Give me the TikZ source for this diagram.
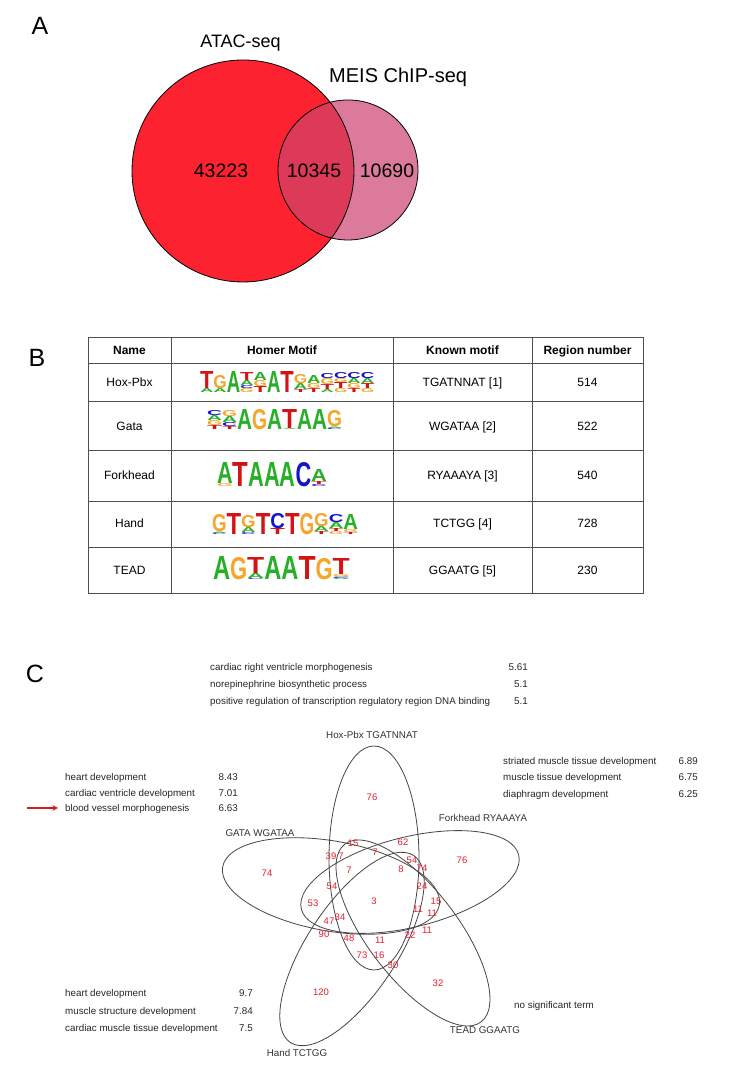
\documentclass[tikz,border=0pt]{standalone}
\usepackage{fontspec}
\setmainfont{Liberation Sans}
\usepackage{graphicx}
\usetikzlibrary{arrows.meta}
\definecolor{bigred}{RGB}{252,34,48}
\definecolor{meispink}{RGB}{220,122,156}
\definecolor{interred}{RGB}{221,58,90}
\definecolor{logoA}{RGB}{40,175,40}
\definecolor{logoC}{RGB}{20,20,200}
\definecolor{logoG}{RGB}{245,165,40}
\definecolor{logoT}{RGB}{210,20,20}
\definecolor{numred}{RGB}{232,30,45}
\definecolor{arrred}{RGB}{210,30,30}
\definecolor{vennline}{RGB}{70,70,70}
\definecolor{tabline}{RGB}{80,80,80}
\newcounter{lgc}
\newcommand\lcw{13}
\newcommand\logocol[3]{%
  \xdef\cury{#2}%
  \foreach \ltr/\hgt in {#3}{%
    \stepcounter{lgc}%
    \node[name=lg\arabic{lgc},inner sep=0pt,outer sep=0pt,anchor=south west,text=logo\ltr] at (#1,\cury) {\resizebox{\lcw pt}{\hgt pt}{\bfseries\ltr}};%
    \pgfmathsetmacro\tmp{\cury+\hgt}\xdef\cury{\tmp}%
  }}
\tikzset{
  panellabel/.style={font=\fontsize{25}{25}\selectfont, inner sep=0pt, anchor=base},
  bigtxt/.style={font=\fontsize{19.5}{21}\selectfont, inner sep=0pt, anchor=base},
  tabtxt/.style={font=\fontsize{12}{14}\selectfont, inner sep=0pt, anchor=base},
  tabhead/.style={font=\fontsize{12}{14}\selectfont\bfseries, inner sep=0pt, anchor=base},
  ct/.style={font=\fontsize{9.8}{11}\selectfont, text=black!85, inner sep=0pt},
  vlab/.style={font=\fontsize{9.8}{11}\selectfont, text=black!80, inner sep=0pt, anchor=base},
  rn/.style={font=\fontsize{9.5}{10}\selectfont, text=numred, inner sep=0pt, anchor=center},
  vell/.style={draw=vennline, line width=0.8pt},
  tline/.style={draw=tabline, line width=0.8pt}
}
\begin{document}
\begin{tikzpicture}[x=1pt,y=1pt]
\useasboundingbox (0,0) rectangle (729,1089);
\fill[white] (0,0) rectangle (729,1089);

% ---------------- Panel A ----------------
\node[panellabel] (labA) at (40,1054) {A};
\fill[bigred] (243,918) circle (111);
\fill[meispink] (348,919) circle (70);
\begin{scope}
  \clip (243,918) circle (111);
  \fill[interred] (348,919) circle (70);
\end{scope}
\draw[line width=0.8pt] (243,918) circle (111);
\draw[line width=0.8pt] (348,919) circle (70);
\node[bigtxt, font=\fontsize{18}{20}\selectfont] (atac) at (240.5,1041) {ATAC-seq};
\node[bigtxt, anchor=base west, font=\fontsize{20}{22}\selectfont] (meis) at (329,1006) {MEIS ChIP-seq};
\node[bigtxt] (n1) at (221,911) {43223};
\node[bigtxt] (n2) at (314,911) {10345};
\node[bigtxt] (n3) at (387,911) {10690};

% ---------------- Panel B ----------------
\node[panellabel] (labB) at (37,722) {B};
\draw[tline] (88,496) rectangle (643,752);
\foreach \yy in {726,688,639,588,542} { \draw[tline] (88,\yy) -- (643,\yy); }
\foreach \xx in {171,393,532} { \draw[tline] (\xx,496) -- (\xx,752); }
\node[tabhead] (h1) at (129.5,734.7) {Name};
\node[tabhead] (h2) at (282,734.7) {Homer Motif};
\node[tabhead] (h3) at (462.5,734.7) {Known motif};
\node[tabhead] (h4) at (587.5,734.7) {Region number};
\node[tabtxt] (r1a) at (129.5,702.7) {Hox-Pbx};
\node[tabtxt] (r1b) at (462.5,702.7) {TGATNNAT [1]};
\node[tabtxt] (r1c) at (587.5,702.7) {514};
\node[tabtxt] (r2a) at (129.5,658.7) {Gata};
\node[tabtxt] (r2b) at (462.5,658.7) {WGATAA [2]};
\node[tabtxt] (r2c) at (587.5,658.7) {522};
\node[tabtxt] (r3a) at (129.5,609.7) {Forkhead};
\node[tabtxt] (r3b) at (462.5,609.7) {RYAAAYA [3]};
\node[tabtxt] (r3c) at (587.5,609.7) {540};
\node[tabtxt] (r4a) at (129.5,561.7) {Hand};
\node[tabtxt] (r4b) at (462.5,561.7) {TCTGG [4]};
\node[tabtxt] (r4c) at (587.5,561.7) {728};
\node[tabtxt] (r5a) at (129.5,514.7) {TEAD};
\node[tabtxt] (r5b) at (462.5,514.7) {GGAATG [5]};
\node[tabtxt] (r5c) at (587.5,514.7) {230};

% Hox-Pbx logo
\renewcommand\lcw{13.4}
\logocol{200}{696}{A/4,T/17}
\logocol{213.4}{696}{A/4,G/13}
\logocol{226.8}{696}{A/21}
\logocol{240.2}{696}{G/4,C/3,A/5,T/8}
\logocol{253.6}{696}{T/6,G/6,A/8}
\logocol{267}{696}{A/21}
\logocol{280.4}{696}{T/21}
\logocol{293.8}{696}{T/3,A/6,G/9}
\logocol{307.2}{696}{T/4,G/5,A/8}
\logocol{320.6}{696}{A/3,T/5,G/6,C/5}
\logocol{334}{696}{G/4,T/6,G/4,C/6}
\logocol{347.4}{696}{T/4,G/5,A/5,C/6}
\logocol{360.8}{696}{G/4,T/5,A/5,C/6}
% Gata logo
\renewcommand\lcw{15}
\logocol{207}{659}{T/4,G/5,A/5,C/5}
\logocol{222}{659}{T/3,C/4,A/6,G/6}
\logocol{237}{659}{A/20}
\logocol{252}{659}{G/20}
\logocol{267}{659}{A/20}
\logocol{282}{659}{A/1,T/19}
\logocol{297}{659}{A/20}
\logocol{312}{659}{A/20}
\logocol{327}{659}{C/1.5,A/1.5,G/16}
% Forkhead logo
\renewcommand\lcw{15.7}
\logocol{217}{602}{G/3,A/21}
\logocol{232.7}{602}{T/24}
\logocol{248.4}{602}{A/24}
\logocol{264.1}{602}{A/24}
\logocol{279.8}{602}{A/24}
\logocol{295.5}{602}{C/24}
\logocol{311.2}{602}{C/2,T/3,A/12}
% Hand logo
\renewcommand\lcw{14.6}
\logocol{212}{554}{C/1.5,A/1.5,G/17}
\logocol{226.6}{554}{T/21}
\logocol{241.2}{554}{C/2,A/5,G/12}
\logocol{255.8}{554}{T/21}
\logocol{270.4}{554}{T/6,C/15}
\logocol{285}{554}{T/21}
\logocol{299.6}{554}{G/21}
\logocol{314.2}{554}{T/3,A/5,G/13}
\logocol{328.8}{554}{G/3,T/3,A/6,C/8}
\logocol{343.4}{554}{T/2,G/3,A/15}
% TEAD logo
\renewcommand\lcw{17.1}
\logocol{213}{509}{A/23}
\logocol{230.1}{509}{G/22}
\logocol{247.2}{509}{C/1,A/5,T/16}
\logocol{264.3}{509}{A/23}
\logocol{281.4}{509}{A/23}
\logocol{298.5}{509}{T/23}
\logocol{315.6}{509}{G/21}
\logocol{332.7}{509}{A/1.5,C/1.5,G/2,T/16}

% ---------------- Panel C ----------------
\node[panellabel] (labC) at (35,406) {C};
% top block
\node[ct, anchor=base west] (t1) at (210,418.5) {cardiac right ventricle morphogenesis};
\node[ct, anchor=base west] (t2) at (210,401.5) {norepinephrine biosynthetic process};
\node[ct, anchor=base west] (t3) at (210,384.5) {positive regulation of transcription regulatory region DNA binding};
\node[ct, anchor=base east] (t1v) at (528,418.5) {5.61};
\node[ct, anchor=base east] (t2v) at (528,401.5) {5.1};
\node[ct, anchor=base east] (t3v) at (528,384.5) {5.1};
% left block
\node[ct, anchor=base west] (l1) at (65,308.5) {heart development};
\node[ct, anchor=base west] (l2) at (65,292.5) {cardiac ventricle development};
\node[ct, anchor=base west] (l3) at (65,277.5) {blood vessel morphogenesis};
\node[ct, anchor=base east] (l1v) at (238,308.5) {8.43};
\node[ct, anchor=base east] (l2v) at (238,292.5) {7.01};
\node[ct, anchor=base east] (l3v) at (238,277.5) {6.63};
\coordinate (arrs) at (27,281);
\coordinate (arre) at (58,281);
\draw[arrred, line width=1.1pt, -{Stealth[length=5.5pt,width=5.5pt]}] (arrs) -- (arre);
% right block
\node[ct, anchor=base west] (r1) at (503,324.5) {striated muscle tissue development};
\node[ct, anchor=base west] (r2) at (503,308.5) {muscle tissue development};
\node[ct, anchor=base west] (r3) at (503,291.5) {diaphragm development};
\node[ct, anchor=base east] (r1v) at (698,324.5) {6.89};
\node[ct, anchor=base east] (r2v) at (698,308.5) {6.75};
\node[ct, anchor=base east] (r3v) at (698,291.5) {6.25};
% bottom-left block
\node[ct, anchor=base west] (b1) at (65,92.5) {heart development};
\node[ct, anchor=base west] (b2) at (65,74.5) {muscle structure development};
\node[ct, anchor=base west] (b3) at (65,57.5) {cardiac muscle tissue development};
\node[ct, anchor=base east] (b1v) at (253,92.5) {9.7};
\node[ct, anchor=base east] (b2v) at (253,74.5) {7.84};
\node[ct, anchor=base east] (b3v) at (253,57.5) {7.5};
\node[ct, anchor=base] (nst) at (554,80.5) {no significant term};

% ellipses
\draw[vell, rotate around={90:(374,231)}] (374,231) ellipse (112 and 45);
\draw[vell, rotate around={14:(410,207)}] (410,207) ellipse (112 and 45);
\draw[vell, rotate around={-10:(331,203)}] (331,203) ellipse (110 and 45);
\draw[vell, rotate around={-52.5:(413,156)}] (413,156) ellipse (112 and 45);
\draw[vell, rotate around={56.6:(352,140)}] (352,140) ellipse (112 and 45);
% set labels
\node[vlab] (sHox) at (372,350.5) {Hox-Pbx TGATNNAT};
\node[vlab] (sGata) at (260,252.5) {GATA WGATAA};
\node[vlab] (sFork) at (483,267.5) {Forkhead RYAAAYA};
\node[vlab] (sHand) at (297,32.5) {Hand TCTGG};
\node[vlab] (sTead) at (485,55.5) {TEAD GGAATG};
% region numbers
\node[rn] (v1) at (372,292) {76};
\node[rn] (v2) at (462,229) {76};
\node[rn] (v3) at (267,216) {74};
\node[rn] (v4) at (321,97) {120};
\node[rn] (v5) at (438,106) {32};
\node[rn] (v6) at (353,246) {15};
\node[rn] (v7) at (403,247) {62};
\node[rn] (v8) at (375,237) {7};
\node[rn] (v9) at (331,233) {39};
\node[rn] (v10) at (341,233) {7};
\node[rn] (v11) at (412,229) {54};
\node[rn] (v12) at (422,221) {74};
\node[rn] (v13) at (401,220) {8};
\node[rn] (v14) at (349,219) {7};
\node[rn] (v15) at (332,203) {54};
\node[rn] (v16) at (422,203) {24};
\node[rn] (v17) at (313,186) {53};
\node[rn] (v18) at (374,188) {3};
\node[rn] (v19) at (436,188) {15};
\node[rn] (v20) at (418,180) {11};
\node[rn] (v21) at (432,176) {11};
\node[rn] (v22) at (329,168) {47};
\node[rn] (v23) at (340,172) {34};
\node[rn] (v24) at (324,155) {90};
\node[rn] (v25) at (349,151) {48};
\node[rn] (v26) at (380,149) {11};
\node[rn] (v27) at (410,154) {22};
\node[rn] (v28) at (427,159) {11};
\node[rn] (v29) at (362,134) {73};
\node[rn] (v30) at (379,134) {16};
\node[rn] (v31) at (393,124) {30};
\end{tikzpicture}
\end{document}
